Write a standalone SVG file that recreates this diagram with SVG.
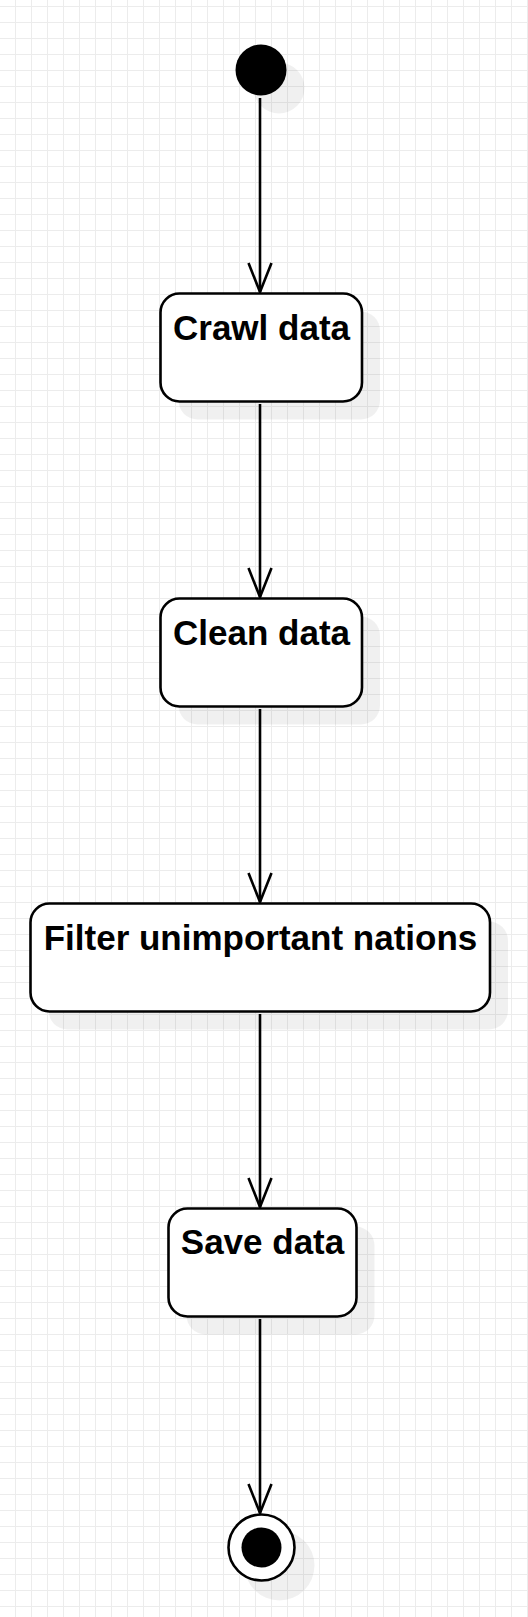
<svg xmlns="http://www.w3.org/2000/svg" width="528" height="1617" viewBox="0 0 528 1617">
  <defs>
    <pattern id="grid" x="0" y="0" width="16" height="16" patternUnits="userSpaceOnUse">
      <path d="M15.5 0 V16 M0 6.5 H16" fill="none" stroke="#ececec" stroke-width="1"/>
    </pattern>
    <marker id="open-arrow" viewBox="0 0 32 26" markerWidth="32" markerHeight="26" refX="30" refY="13" orient="auto" markerUnits="userSpaceOnUse">
      <path d="M1 1.5 L30 13 L1 24.5" fill="none" stroke="#000" stroke-width="2.6"/>
    </marker>
  </defs>
  <style>
    .shadow { fill: #000; fill-opacity: 0.06; stroke: none; }
    .state { fill: #fff; stroke: #000; stroke-width: 2.6; }
    .label { font-family: "Liberation Sans", Arial, sans-serif; font-size: 35px; font-weight: bold; fill: #000; text-anchor: middle; }
    .edge { fill: none; stroke: #000; stroke-width: 2.6; }
  </style>
  <rect x="0" y="0" width="528" height="1617" fill="#fff"/>
  <rect x="0" y="0" width="528" height="1617" fill="url(#grid)"/>

  <g id="start">
    <circle class="shadow" cx="279" cy="88" r="25.5"/>
    <circle cx="261" cy="70" r="25.5" fill="#000"/>
  </g>

  <g id="crawl-data">
    <rect class="shadow" x="178.5" y="311.5" width="201.5" height="108" rx="19" ry="19"/>
    <rect class="state" x="160.5" y="293.5" width="201.5" height="108" rx="19" ry="19"/>
    <text class="label" x="261.5" y="339.5">Crawl data</text>
  </g>

  <g id="clean-data">
    <rect class="shadow" x="178.5" y="616.5" width="201.5" height="108" rx="19" ry="19"/>
    <rect class="state" x="160.5" y="598.5" width="201.5" height="108" rx="19" ry="19"/>
    <text class="label" x="261.5" y="644.5">Clean data</text>
  </g>

  <g id="filter-nations">
    <rect class="shadow" x="48.5" y="921.5" width="459.5" height="108" rx="19" ry="19"/>
    <rect class="state" x="30.5" y="903.5" width="459.5" height="108" rx="19" ry="19"/>
    <text class="label" x="260.5" y="949.5">Filter unimportant nations</text>
  </g>

  <g id="save-data">
    <rect class="shadow" x="186.5" y="1226.5" width="188" height="108" rx="19" ry="19"/>
    <rect class="state" x="168.5" y="1208.5" width="188" height="108" rx="19" ry="19"/>
    <text class="label" x="262.5" y="1254">Save data</text>
  </g>

  <g id="end">
    <circle class="shadow" cx="279.5" cy="1565.5" r="35"/>
    <circle cx="261.5" cy="1547.5" r="33" fill="#fff" stroke="#000" stroke-width="2.6"/>
    <circle cx="261.5" cy="1547.5" r="20" fill="#000"/>
  </g>

  <g id="connectors">
    <path class="edge" d="M260 98 V292" marker-end="url(#open-arrow)"/>
    <path class="edge" d="M260 404 V597" marker-end="url(#open-arrow)"/>
    <path class="edge" d="M260 709 V902" marker-end="url(#open-arrow)"/>
    <path class="edge" d="M260 1014 V1207" marker-end="url(#open-arrow)"/>
    <path class="edge" d="M260 1319 V1513" marker-end="url(#open-arrow)"/>
  </g>
</svg>
